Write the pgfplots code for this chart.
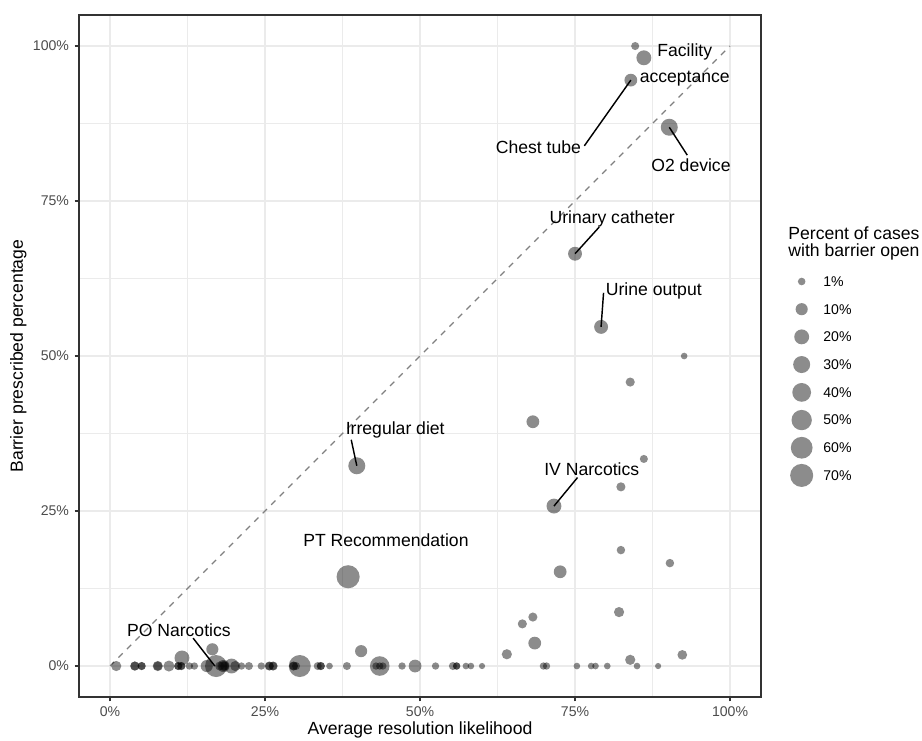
\documentclass[border=0pt]{standalone}
\usepackage{pgfplots}
\usepackage{pgfplotstable}
\pgfplotsset{compat=1.18}
\usepackage{fontspec}
\setmainfont{Liberation Sans}
\definecolor{gridc}{gray}{0.92}
\definecolor{tickc}{gray}{0.30}
\definecolor{borderc}{gray}{0.20}
\definecolor{diagc}{gray}{0.50}
\newcommand{\fa}{\fontsize{11}{13.2}\selectfont}
\newcommand{\fb}{\fontsize{8.8}{10.5}\selectfont}
\pgfplotstableread{
x y v
84.7 100.0 1.5
86.1 98.1 20
84.0 94.5 12
90.2 86.9 30
75.0 66.5 16
79.2 54.7 16
92.6 50.0 0.3
83.9 45.8 3
68.2 39.4 12
86.1 33.4 1.5
82.4 28.9 3
71.6 25.8 20
39.8 32.3 30
38.4 14.4 70
82.4 18.7 2
90.3 16.6 2
72.6 15.2 12
82.1 8.7 5
68.2 7.9 3
66.5 6.8 3
68.5 3.7 12
83.9 1.0 5
92.3 1.8 4
64.0 1.9 5
40.5 2.4 10
16.5 2.7 10
11.6 1.3 20
1.0 0 5
4.0 0 3
4.0 0 3
5.1 0 1.5
5.1 0 1.5
7.7 0 5
7.7 0 3
9.5 0 7
11.0 0 1.5
11.0 0 1.5
11.5 0 1.5
11.5 0 1.5
12.8 0 0.8
13.6 0 0.8
15.6 0 10
17.1 0 62
17.7 0 3
18.3 0 10
18.3 0 5
18.5 0 3
19.6 0 20
20.2 0 5
21.2 0 0.8
22.4 0 1.5
24.4 0 0.8
25.7 0 3
25.7 0 2
26.3 0 3
26.3 0 2
29.6 0 3
29.6 0 2
30.0 0 1.5
30.6 0 62
33.5 0 1.5
34.0 0 1.5
34.0 0 1.5
35.4 0 0.3
38.2 0 1.5
43.5 0 45
42.9 0 0.8
43.5 0 0.8
44.0 0 0.8
47.1 0 0.8
49.2 0 12
52.5 0 0.8
55.3 0 1.5
55.9 0 0.8
55.9 0 0.8
57.4 0 0.3
58.2 0 0.3
60.0 0 0.1
69.9 0 0.8
70.4 0 0.8
75.3 0 0.3
77.6 0 0.3
78.3 0 0.3
80.2 0 0.3
85.0 0 0.3
88.4 0 0.1
}\pts
\pgfplotstableread{
x y v
25.4 259.7 1
25.4 242.4 10
25.4 225.1 20
25.4 207.8 30
25.4 190.4 40
25.4 173.1 50
25.4 155.8 60
25.4 138.5 70
}\legpts
\pgfplotsset{
  bubble/.style={scatter, only marks, mark=*, point meta=\thisrow{v},
    scatter/use mapped color={draw=black, draw opacity=0, fill=black, fill opacity=0.45},
    visualization depends on={\thisrow{v} \as \pv},
    scatter/@pre marker code/.append style={/tikz/mark size={1.72+0.656*sqrt(\pv)}}},
  seg/.style={black, line width=0.9pt, no marks}
}
\begin{document}
\begin{tikzpicture}
\useasboundingbox (-49.4pt,-26.9pt) rectangle (526.85pt,435.65pt);
\begin{axis}[
  at={(0pt,0pt)}, anchor=south west, scale only axis,
  width=426.25pt, height=426.25pt,
  xmin=-5, xmax=105, ymin=-5, ymax=105,
  xtick={0,25,50,75,100}, ytick={0,25,50,75,100},
  minor xtick={12.5,37.5,62.5,87.5}, minor ytick={12.5,37.5,62.5,87.5},
  xticklabels={0\%,25\%,50\%,75\%,100\%},
  yticklabels={0\%,25\%,50\%,75\%,100\%},
  grid=both,
  major grid style={gridc, line width=1.07pt},
  minor grid style={gridc, line width=0.53pt},
  axis line style={borderc, line width=1.07pt},
  tick style={borderc, line width=1.07pt},
  tick align=outside, tick pos=left,
  major tick length=2.75pt, minor tick length=0pt,
  ticklabel style={font=\fb, text=tickc},
  xlabel={Average resolution likelihood},
  ylabel={Barrier prescribed percentage},
  label style={font=\fa},
  xlabel style={at={([yshift=-20.6pt]axis description cs:0.5,0)}, anchor=center},
  ylabel style={at={([xshift=-38pt]axis description cs:0,0.5)}, anchor=center},
]
\addplot[diagc, line width=0.8pt, dash pattern=on 3.75pt off 3.75pt] coordinates {(0,0) (100,100)};
\addplot[bubble] table {\pts};
\addplot[seg] coordinates {(84.0,94.5) (76.5,83.9)};
\addplot[seg] coordinates {(90.2,86.9) (93.1,82.4)};
\addplot[seg] coordinates {(75.0,66.5) (78.9,70.8)};
\addplot[seg] coordinates {(79.2,54.7) (79.6,60.2)};
\addplot[seg] coordinates {(71.6,25.8) (75.4,30.4)};
\addplot[seg] coordinates {(16.9,0) (13.4,4.5)};
\addplot[seg] coordinates {(39.8,32.3) (38.9,36.5)};
\node[font=\fa, align=center, inner sep=0pt] at (axis cs:92.7,97.0) {Facility\\[3pt]acceptance};
\node[font=\fa, inner sep=0pt] at (axis cs:69.1,83.7) {Chest tube};
\node[font=\fa, inner sep=0pt] at (axis cs:93.7,80.8) {O2 device};
\node[font=\fa, inner sep=0pt] at (axis cs:81.0,72.1) {Urinary catheter};
\node[font=\fa, inner sep=0pt] at (axis cs:87.7,60.5) {Urine output};
\node[font=\fa, inner sep=0pt] at (axis cs:77.7,31.8) {IV Narcotics};
\node[font=\fa, inner sep=0pt] at (axis cs:46.0,38.1) {Irregular diet};
\node[font=\fa, inner sep=0pt] at (axis cs:44.5,20.3) {PT Recommendation};
\node[font=\fa, inner sep=0pt] at (axis cs:11.1,5.8) {PO Narcotics};
\end{axis}
\begin{axis}[
  at={(426.25pt,0pt)}, anchor=south west, scale only axis,
  width=100.6pt, height=426.25pt,
  xmin=0, xmax=100.6, ymin=0, ymax=426.25,
  hide axis, clip=false]
\addplot[bubble] table {\legpts};
\node[font=\fb, anchor=west, inner sep=0pt] at (axis cs:38.75,259.7) {1\%};
\node[font=\fb, anchor=west, inner sep=0pt] at (axis cs:38.75,242.4) {10\%};
\node[font=\fb, anchor=west, inner sep=0pt] at (axis cs:38.75,225.1) {20\%};
\node[font=\fb, anchor=west, inner sep=0pt] at (axis cs:38.75,207.8) {30\%};
\node[font=\fb, anchor=west, inner sep=0pt] at (axis cs:38.75,190.4) {40\%};
\node[font=\fb, anchor=west, inner sep=0pt] at (axis cs:38.75,173.1) {50\%};
\node[font=\fb, anchor=west, inner sep=0pt] at (axis cs:38.75,155.8) {60\%};
\node[font=\fb, anchor=west, inner sep=0pt] at (axis cs:38.75,138.5) {70\%};
\node[font=\fa, anchor=base west, inner sep=0pt] at (axis cs:16.9,286) {Percent of cases};
\node[font=\fa, anchor=base west, inner sep=0pt] at (axis cs:16.9,275.4) {with barrier open};
\end{axis}
\end{tikzpicture}
\end{document}
